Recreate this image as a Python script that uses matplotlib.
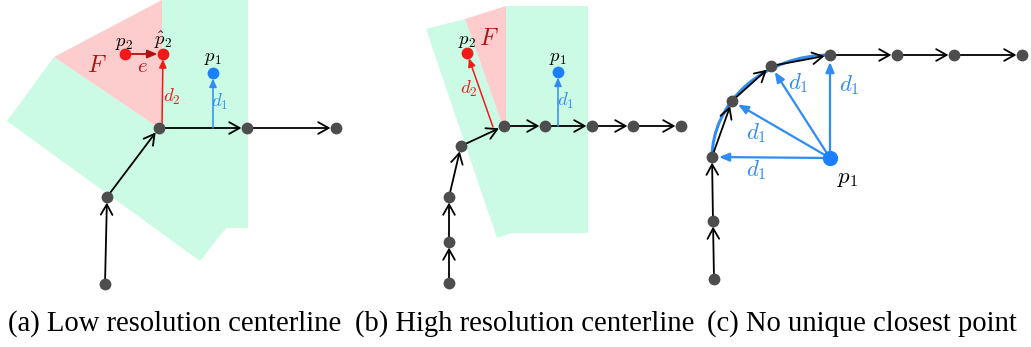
import matplotlib.pyplot as plt
from matplotlib.patches import Polygon, FancyArrowPatch, Arc

plt.rcParams["mathtext.fontset"] = "cm"

# --- panel (a): low resolution centerline (pixel coordinates) ---
a_nodes_x = [105, 107, 159, 247, 336]
a_nodes_y = [284, 197, 128, 128, 128]
a_green = [(7, 121), (54, 57), (159, 128), (162, 128), (162, 0), (248, 0),
           (248, 228), (226, 228), (200, 261)]
a_red = [(54, 57), (162, 0), (162, 128), (159, 128)]
a_p1 = (213, 73)
a_p2 = (125, 54)
a_p2hat = (163, 54)

# --- panel (b): high resolution centerline ---
b_nodes_x = [449, 449, 449, 461, 504, 545, 592, 633, 681]
b_nodes_y = [283, 242, 197, 146, 126, 126, 126, 126, 126]
b_green = [(426, 29), (465, 19), (502, 124), (506, 126), (506, 6), (588, 6),
           (588, 233), (512, 233), (497, 238)]
b_red = [(465, 19), (506, 6), (506, 126), (502, 124)]
b_p1 = (558, 72)
b_p2 = (467, 53)
b_foot2 = (493, 127)

# --- panel (c): no unique closest point ---
c_nodes_x = [714, 713, 712, 732, 771, 830, 897, 954, 1022]
c_nodes_y = [279, 221, 157, 101, 66, 55, 55, 55, 55]
c_p1 = (830, 158)
c_arc_radii = (118, 103)
c_targets = [2, 3, 4, 5]   # node indices reached by d1
c_d1_labels = [(756, 170), (756, 133), (798, 83), (849, 85)]

captions = ["(a) Low resolution centerline", "(b) High resolution centerline",
            "(c) No unique closest point"]
caption_x = [8, 355, 707]

GREEN = "#ccfbe5"
PINK = "#fdcdcd"
NODE = "#4d4d4d"
RED = "#f01a1a"
DARKRED = "#b01010"
BLUE = "#2f8cf5"
BLUEDOT = "#1a80ff"

fig = plt.figure(figsize=(10.31, 3.47), dpi=100)
ax = fig.add_axes([0, 0, 1, 1])
ax.set_xlim(0, 1031)
ax.set_ylim(347, 0)
ax.axis("off")


def arrow(p, q, color="black", style="->,head_length=7.5,head_width=4.2",
          lw=1.3, shrinkB=4, z=3):
    ax.add_patch(FancyArrowPatch(p, q, arrowstyle=style, color=color, lw=lw,
                                 shrinkA=0, shrinkB=shrinkB, zorder=z,
                                 mutation_scale=1))


def chain(xs, ys):
    for i in range(len(xs) - 1):
        arrow((xs[i], ys[i]), (xs[i + 1], ys[i + 1]))
    ax.plot(xs, ys, "o", color=NODE, ms=8.5, zorder=5, mec="none")


small = "-|>,head_length=5,head_width=2.2"

# panel (a)
ax.add_patch(Polygon(a_green, closed=True, fc=GREEN, ec="none", zorder=1))
ax.add_patch(Polygon(a_red, closed=True, fc=PINK, ec="none", zorder=1))
chain(a_nodes_x, a_nodes_y)
arrow((a_nodes_x[2] + 3, a_nodes_y[2]), (a_p2hat[0], a_p2hat[1] + 1),
      color=RED, style=small, lw=1.1, shrinkB=3)
arrow((a_p1[0], a_nodes_y[2]), a_p1, color=BLUE, style=small, lw=1.1, shrinkB=4)
arrow(a_p2, a_p2hat, color=DARKRED, style="-|>,head_length=6,head_width=2.5",
      lw=1.3, shrinkB=4)
ax.plot(*zip(a_p2, a_p2hat), "o", color=RED, ms=8.5, mec="none", zorder=6)
ax.plot(*a_p1, "o", color=BLUEDOT, ms=8.5, mec="none", zorder=6)
ax.text(124, 42, "$p_2$", fontsize=13.5, ha="center", va="center")
ax.text(163, 40, r"$\hat{p}_2$", fontsize=13.5, ha="center", va="center")
ax.text(213, 57, "$p_1$", fontsize=13.5, ha="center", va="center")
ax.text(97, 65, "$F$", fontsize=17, color=DARKRED, ha="center", va="center")
ax.text(142, 66, "$e$", fontsize=15, color=DARKRED, ha="center", va="center")
ax.text(172, 97, "$d_2$", fontsize=13.5, color=RED, ha="center", va="center")
ax.text(220, 102, "$d_1$", fontsize=13.5, color=BLUE, ha="center", va="center")

# panel (b)
ax.add_patch(Polygon(b_green, closed=True, fc=GREEN, ec="none", zorder=1))
ax.add_patch(Polygon(b_red, closed=True, fc=PINK, ec="none", zorder=1))
chain(b_nodes_x, b_nodes_y)
arrow(b_foot2, b_p2, color=RED, style=small, lw=1.1, shrinkB=4)
arrow((b_p1[0], b_nodes_y[5]), b_p1, color=BLUE, style=small, lw=1.1, shrinkB=4)
ax.plot(*b_p2, "o", color=RED, ms=8.5, mec="none", zorder=6)
ax.plot(*b_p1, "o", color=BLUEDOT, ms=8.5, mec="none", zorder=6)
ax.text(467, 40, "$p_2$", fontsize=13.5, ha="center", va="center")
ax.text(489, 38, "$F$", fontsize=17, color=DARKRED, ha="center", va="center")
ax.text(558, 57, "$p_1$", fontsize=13.5, ha="center", va="center")
ax.text(469, 89, "$d_2$", fontsize=13.5, color=RED, ha="center", va="center")
ax.text(566, 101, "$d_1$", fontsize=13.5, color=BLUE, ha="center", va="center")

# panel (c)
ax.add_patch(Arc(c_p1, 2 * c_arc_radii[0], 2 * c_arc_radii[1], theta1=180,
                 theta2=270, color=BLUE, lw=2.2, zorder=2))
chain(c_nodes_x, c_nodes_y)
for i, (lx, ly) in zip(c_targets, c_d1_labels):
    arrow(c_p1, (c_nodes_x[i], c_nodes_y[i]), color=BLUE,
          style="-|>,head_length=6,head_width=2.5", lw=1.6, shrinkB=5)
    ax.text(lx, ly, "$d_1$", fontsize=16.5, color=BLUE, ha="center", va="center")
ax.plot(*c_p1, "o", color=BLUEDOT, ms=11, mec="none", zorder=6)
ax.text(848, 177, "$p_1$", fontsize=16.5, ha="center", va="center")

for x, s in zip(caption_x, captions):
    ax.text(x, 324, s, fontsize=20.6, family="Liberation Serif",
            ha="left", va="center")

fig.savefig("out.png", dpi=100)
